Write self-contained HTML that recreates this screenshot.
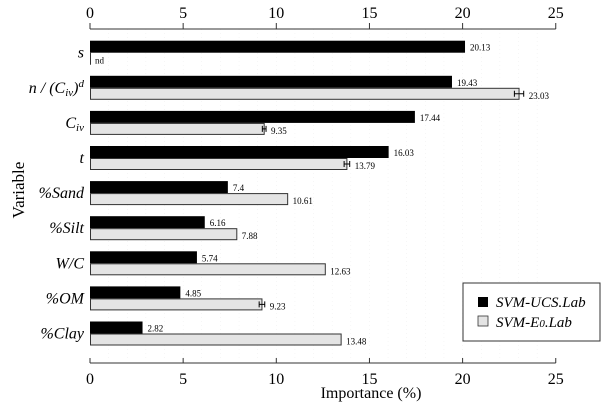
<!DOCTYPE html>
<html><head><meta charset="utf-8"><style>
body{margin:0;background:#fff}
svg{display:block;font-family:"Liberation Serif",serif}
</style></head><body>
<svg width="602" height="412" viewBox="0 0 602 412" font-family="Liberation Serif, serif">
<g id="grid"></g>
<g id="axes"></g>
<g id="bars"></g>
<g id="ylabels" font-style="italic" font-size="16" text-anchor="end">
</g>
<text x="24" y="190" font-size="17" text-anchor="middle" transform="rotate(-90 24 190)">Variable</text>
<text x="371" y="398" font-size="16" text-anchor="middle">Importance (%)</text>
<g>
<rect x="463" y="283" width="137" height="58" fill="#fff" stroke="#333" stroke-width="1"/>
<rect x="478" y="297" width="10" height="10" fill="#000"/>
<text x="496" y="307" font-size="15" font-style="italic">SVM-UCS.Lab</text>
<rect x="478" y="316" width="10" height="10" fill="#e4e4e4" stroke="#333" stroke-width="0.8"/>
<text x="496" y="327" font-size="15" font-style="italic">SVM-E<tspan font-size="11">0</tspan>.Lab</text>
</g>
</svg>
<script>
const categories=["s","n/(Civ)d","Civ","t","%Sand","%Silt","W/C","%OM","%Clay"];
const ucsValues=[20.13,19.43,17.44,16.03,7.4,6.16,5.74,4.85,2.82];
const e0Values=[0,23.03,9.35,13.79,10.61,7.88,12.63,9.23,13.48];
const e0Errors=[0,0.25,0.1,0.15,0,0,0,0.15,0];
const e0Labels=["nd","23.03","9.35","13.79","10.61","7.88","12.63","9.23","13.48"];
const xTicks=[0,5,10,15,20,25];
const NS="http://www.w3.org/2000/svg";
const x=v=>90+v*18.63;
const gy=i=>40.7+i*35.1;
const bh=12;
function mk(t,a,p){const e=document.createElementNS(NS,t);for(const k in a)e.setAttribute(k,a[k]);p.appendChild(e);return e;}
const grid=document.getElementById('grid'),axes=document.getElementById('axes'),bars=document.getElementById('bars'),yl=document.getElementById('ylabels');
for(let v=1;v<25;v++){const g=mk('line',{x1:x(v),x2:x(v),y1:29,y2:358,stroke:'#eee','stroke-width':0.5,'stroke-dasharray':'1 3'},grid);}
[[29,-6,18],[363,-5,384]].forEach(([ly,dt,ty])=>{
 const l=mk('line',{x1:x(0),x2:x(25),y1:ly,y2:ly,stroke:'#333','stroke-width':1},axes);
 
 xTicks.forEach(t=>{
  const tk=mk('line',{x1:x(t),x2:x(t),y1:ly,y2:ly+dt,stroke:'#333','stroke-width':1},axes);
  
  const tx=mk('text',{x:x(t),y:ty,'font-size':16,'text-anchor':'middle'},axes);
  
  tx.textContent=t;
 });
});
categories.forEach((c,i)=>{
 const y=gy(i);
 const b=mk('rect',{x:x(0),y:y,width:x(ucsValues[i])-x(0),height:bh,fill:'#000'},bars);
 
 
 const t1=mk('text',{x:x(ucsValues[i])+5,y:y+bh-2,'font-size':9},bars);
 
 t1.textContent=ucsValues[i];
 const g=mk('rect',{x:x(0)+0.5,y:y+bh+0.5,width:Math.max(0,x(e0Values[i])-x(0)-0.5),height:bh-1,fill:'#e4e4e4',stroke:'#333','stroke-width':1},bars);
 
 
 if(e0Values[i]===0){
  const z=mk('line',{x1:x(0)+0.5,x2:x(0)+0.5,y1:y+bh,y2:y+2*bh,stroke:'#333','stroke-width':1},bars);
  
 }
 if(e0Errors[i]>0){
  const cy=y+bh+bh/2;
  const e=mk('path',{d:`M${x(e0Values[i]-e0Errors[i])} ${cy-3}V${cy+3}M${x(e0Values[i]+e0Errors[i])} ${cy-3}V${cy+3}M${x(e0Values[i]-e0Errors[i])} ${cy}H${x(e0Values[i]+e0Errors[i])}`,stroke:'#000','stroke-width':1,fill:'none'},bars);
  
 }
 const t2=mk('text',{x:x(e0Values[i]+e0Errors[i])+5,y:y+bh+bh-1,'font-size':9},bars);
 
 t2.textContent=e0Labels[i];
 const lab=mk('text',{x:84,y:y+bh+5},yl);
 
 
 if(c==="n/(Civ)d"){lab.innerHTML='n / (C<tspan font-size="11" dy="3">iv</tspan><tspan dy="-3">)</tspan><tspan font-size="11" dy="-6">d</tspan>';}
 else if(c==="Civ"){lab.innerHTML='C<tspan font-size="11" dy="3">iv</tspan>';}
 else lab.textContent=c;
});
</script>
</body></html>
